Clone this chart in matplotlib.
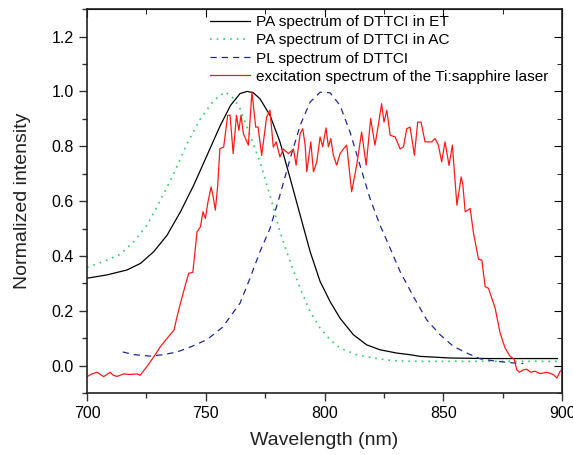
import numpy as np
import matplotlib.pyplot as plt
from matplotlib.ticker import MultipleLocator

plt.rcParams["font.family"] = ["Liberation Sans", "DejaVu Sans"]

# PA spectrum of DTTCI in ET (black, solid)
et_wl = [700, 708.4, 716.8, 722.5, 728.1, 733.7, 739.3, 744.9, 750.5, 756.1, 760.4,
         764.4, 767.4, 770, 772.8, 777, 781.2, 785.5, 789.7, 793.9, 798.1, 802.3,
         806.5, 812.1, 817.7, 823.3, 830.4, 836, 840.2, 852.9, 870, 898]
et_int = [0.319, 0.331, 0.349, 0.373, 0.416, 0.476, 0.561, 0.658, 0.767, 0.876, 0.949,
          0.992, 1.0, 0.995, 0.973, 0.913, 0.816, 0.683, 0.549, 0.416, 0.307, 0.234,
          0.173, 0.113, 0.076, 0.058, 0.046, 0.04, 0.034, 0.028, 0.026, 0.026]

# PA spectrum of DTTCI in AC (green, dotted)
ac_wl = [700, 708.4, 714, 719.6, 725.3, 730.9, 736.5, 742.1, 747.7, 753.3, 758.2,
         761.5, 764.4, 768.6, 772.8, 777, 781.2, 785.5, 789.7, 793.9, 798.1, 802.3,
         806.5, 813.5, 820.5, 829, 836, 860, 898]
ac_int = [0.358, 0.385, 0.406, 0.452, 0.513, 0.604, 0.70, 0.81, 0.90, 0.967, 0.998,
          0.975, 0.937, 0.84, 0.743, 0.622, 0.488, 0.379, 0.283, 0.197, 0.137, 0.095,
          0.064, 0.04, 0.028, 0.018, 0.016, 0.016, 0.016]

# PL spectrum of DTTCI (blue, dashed)
pl_wl = [715, 720, 726.5, 732, 737.9, 744, 750.5, 757, 764.4, 768.6, 772.8, 777,
         781.2, 785.5, 789.7, 793.9, 798.1, 802.3, 806.5, 810.7, 814.9, 819.1, 823.3,
         827.6, 831.8, 837.4, 843, 848.6, 854.3, 859.9, 865.5, 872.5, 879.5, 883.7]
pl_int = [0.05, 0.04, 0.035, 0.04, 0.05, 0.07, 0.095, 0.14, 0.228, 0.319, 0.416, 0.50,
          0.622, 0.755, 0.876, 0.961, 0.997, 0.995, 0.949, 0.852, 0.731, 0.61, 0.513,
          0.428, 0.343, 0.252, 0.167, 0.113, 0.07, 0.046, 0.025, 0.016, 0.01, 0.008]

# excitation spectrum of the Ti:sapphire laser (red, solid)
ex_wl = [700, 702, 704.2, 707, 709.7, 711, 712.6, 715.4, 718, 721, 722.3, 725.3,
         728.2, 730.9, 733.7, 736.6, 737.9, 740, 741.4, 742.8, 744.5, 746.3, 747.7,
         748.8, 749.8, 750.9, 752.2, 753, 754, 755, 755.9, 757.5, 759.2, 760.2, 761.5,
         762.9, 763.9, 764.8, 765.8, 767.9, 769.4, 771, 772, 773.5, 775.6, 777, 778.4,
         779.6, 781.2, 782.6, 784.8, 786.9, 788, 789.7, 790.8, 791.8, 792.5, 794.2,
         795.3, 796.7, 798.1, 799.2, 800.6, 801.6, 802.6, 803.7, 805.1, 806.5, 807.9,
         809.3, 811.4, 813.5, 815.6, 817.5, 819.4, 821.2, 822.6, 824, 825, 826.2,
         827.6, 829.7, 831.8, 833.2, 834.6, 836, 837.8, 839.2, 840.6, 842.3, 845.1,
         846.5, 847.9, 849.3, 850.7, 852.4, 853.8, 855.7, 857.5, 858.2, 859.2, 861.3,
         862.7, 864.8, 866.2, 867.6, 869, 871.8, 873.9, 876, 878.1, 879.8, 880.9, 882,
         883.7, 885.1, 886.8, 888.5, 890.7, 893.6, 896.4, 897.8, 899.2, 900]
ex_int = [-0.04, -0.03, -0.024, -0.04, -0.024, -0.035, -0.039, -0.03, -0.032, -0.03,
          -0.035, -0.002, 0.034, 0.07, 0.10, 0.13, 0.18, 0.25, 0.295, 0.337, 0.34,
          0.488, 0.506, 0.561, 0.537, 0.597, 0.652, 0.62, 0.567, 0.658, 0.791, 0.797,
          0.913, 0.913, 0.773, 0.913, 0.858, 0.913, 0.846, 0.804, 0.998, 0.87, 0.87,
          0.767, 0.907, 0.931, 0.797, 0.816, 0.761, 0.79, 0.773, 0.79, 0.731, 0.846,
          0.864, 0.804, 0.707, 0.816, 0.707, 0.743, 0.834, 0.798, 0.867, 0.798, 0.828,
          0.767, 0.731, 0.773, 0.79, 0.804, 0.634, 0.731, 0.852, 0.731, 0.901, 0.804,
          0.876, 0.955, 0.888, 0.931, 0.84, 0.834, 0.79, 0.798, 0.864, 0.87, 0.767,
          0.888, 0.888, 0.816, 0.816, 0.828, 0.804, 0.743, 0.816, 0.73, 0.804, 0.585,
          0.688, 0.66, 0.561, 0.573, 0.483, 0.388, 0.385, 0.288, 0.282, 0.21, 0.119,
          0.064, 0.034, 0.024, -0.015, -0.024, -0.015, -0.013, -0.024, -0.02, -0.029,
          -0.024, -0.033, -0.045, -0.02, -0.015]

fig = plt.figure(figsize=(5.73, 4.55), dpi=100)
ax = fig.add_axes([0.152, 0.136, 0.829, 0.844])

lw = 0.9
ax.plot(et_wl, et_int, color="black", lw=lw, label="PA spectrum of DTTCI in ET")
ax.plot(ac_wl, ac_int, color="#33cc66", lw=1.2, ls=(0, (1, 3)),
        label="PA spectrum of DTTCI in AC")
ax.plot(pl_wl, pl_int, color="#1f2a8f", lw=lw, ls=(0, (5, 4)),
        label="PL spectrum of DTTCI")
ax.plot(ex_wl, ex_int, color="#ff1a1a", lw=lw,
        label="excitation spectrum of the Ti:sapphire laser")

ax.set_xlim(700, 900)
ax.set_ylim(-0.1, 1.3)
ax.xaxis.set_major_locator(MultipleLocator(50))
ax.xaxis.set_minor_locator(MultipleLocator(25))
ax.yaxis.set_minor_locator(MultipleLocator(0.1))
yt = np.arange(0, 1.21, 0.2)
ax.set_yticks(yt)
ax.set_yticklabels(["{:.1f}".format(v) for v in yt])

ax.tick_params(which="both", direction="out", labelsize=11.5, width=1, color="#333333")
ax.tick_params(which="major", length=6)
ax.tick_params(which="minor", length=3.5)
for s in ax.spines.values():
    s.set_linewidth(1.2)
    s.set_color("#222222")

# mirrored inward ticks on top and right
axt = ax.secondary_xaxis("top")
axt.xaxis.set_major_locator(MultipleLocator(50))
axt.xaxis.set_minor_locator(MultipleLocator(25))
axt.tick_params(which="both", direction="in", labeltop=False)
axt.tick_params(which="major", length=6)
axt.tick_params(which="minor", length=3.5)
axr = ax.secondary_yaxis("right")
axr.yaxis.set_major_locator(MultipleLocator(0.2))
axr.yaxis.set_minor_locator(MultipleLocator(0.1))
axr.tick_params(which="both", direction="in", labelright=False)
axr.tick_params(which="major", length=6)
axr.tick_params(which="minor", length=3.5)

ax.set_xlabel("Wavelength (nm)", fontsize=14, color="#222222", labelpad=8)
ax.set_ylabel("Normalized intensity", fontsize=14, color="#222222", labelpad=15)

ax.legend(loc="upper right", frameon=False, fontsize=11.1, handlelength=2.6,
          handletextpad=0.4, labelspacing=0.27, borderaxespad=0.0,
          bbox_to_anchor=(0.985, 1.0))

fig.savefig("out.png", dpi=100)
